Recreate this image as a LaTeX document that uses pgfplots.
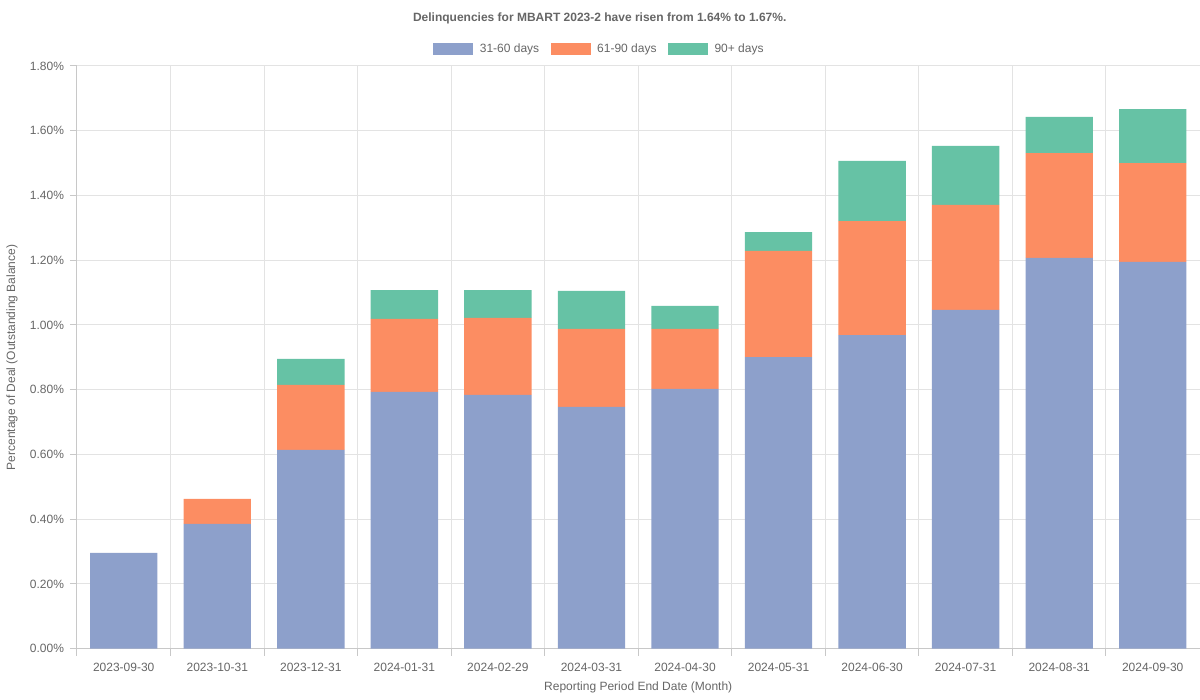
\documentclass[border=0pt]{standalone}
\usepackage{pgfplots}
\pgfplotsset{compat=1.18}
\usepackage{fontspec}
\setmainfont{Liberation Sans}
\definecolor{cblue}{HTML}{8DA0CB}
\definecolor{corange}{HTML}{FC8D62}
\definecolor{cgreen}{HTML}{66C2A5}
\definecolor{txt}{HTML}{666666}
\definecolor{gridc}{HTML}{E3E3E3}
\definecolor{axc}{HTML}{C8C8C8}
\pgfplotstableread{
x a b c
0 0.296 0.000 0.000
1 0.386 0.077 0.000
2 0.614 0.201 0.080
3 0.793 0.226 0.089
4 0.784 0.238 0.086
5 0.747 0.241 0.117
6 0.803 0.185 0.071
7 0.901 0.328 0.058
8 0.969 0.352 0.186
9 1.047 0.324 0.182
10 1.207 0.324 0.112
11 1.195 0.305 0.167
}\data
\begin{document}
\begin{tikzpicture}
\begin{axis}[
  scale only axis,
  width=842.25pt, height=437.25pt,
  xmin=-0.5, xmax=11.5,
  ymin=0, ymax=1.8,
  ybar stacked, bar width=0.72,
  axis x line*=bottom, axis y line*=left,
  axis line style={axc, line width=0.75pt, -},
  xtick={0,...,11},
  xticklabels={2023-09-30,2023-10-31,2023-12-31,2024-01-31,2024-02-29,2024-03-31,2024-04-30,2024-05-31,2024-06-30,2024-07-31,2024-08-31,2024-09-30},
  major x tick style={draw=none},
  minor xtick={-0.5,0.5,...,10.5},
  minor x tick style={axc, line width=0.75pt},
  minor tick length=5.25pt,
  xminorgrids=true,
  ytick={0,0.2,...,1.81},
  ymajorgrids=true,
  major y tick style={axc, line width=0.75pt},
  major tick length=5.25pt,
  tick align=outside,
  grid style={gridc, line width=0.75pt},
  minor grid style={gridc, line width=0.75pt},
  yticklabel={\pgfmathprintnumber[fixed,fixed zerofill,precision=2]{\tick}\%},
  /pgf/number format/assume math mode=true,
  ticklabel style={font=\fontsize{9}{11}\selectfont, text=txt},
  xticklabel style={yshift=-2pt},
  yticklabel style={xshift=-1pt},
  xlabel={Reporting Period End Date (Month)},
  ylabel={Percentage of Deal (Outstanding Balance)},
  label style={font=\fontsize{9}{11}\selectfont, text=txt},
  xlabel style={at={(axis description cs:0.5,-0.0669)}, anchor=center},
  ylabel style={at={(axis description cs:-0.0579,0.5)}, anchor=center},
  title={\bfseries Delinquencies for MBART 2023-2 have risen from 1.64\% to 1.67\%.},
  title style={at={(axis description cs:0.4657,1.0686)}, anchor=center, font=\fontsize{9}{11}\selectfont, text=txt},
  legend columns=3,
  legend style={at={(axis description cs:0.4657,1.0292)}, anchor=center, draw=none, fill=none,
    font=\fontsize{9}{11}\selectfont, text=txt,
    /tikz/every odd column/.append style={column sep=3pt},
    /tikz/every even column/.append style={column sep=6.5pt}},
  legend image code/.code={\fill[#1] (0pt,-4.5pt) rectangle (30pt,4.5pt);},
  clip=false,
]
\addplot[fill=cblue, draw=none] table[x=x,y=a]{\data};
\addplot[fill=corange, draw=none] table[x=x,y=b]{\data};
\addplot[fill=cgreen, draw=none] table[x=x,y=c]{\data};
\legend{31-60 days,61-90 days,90+ days}
\coordinate (ll) at (rel axis cs:0,0);
\end{axis}
\path (ll) ++(-57.75pt,-38.25pt) coordinate (A) ++(900pt,525pt) coordinate (B);
\useasboundingbox (A) rectangle (B);
\end{tikzpicture}
\end{document}
